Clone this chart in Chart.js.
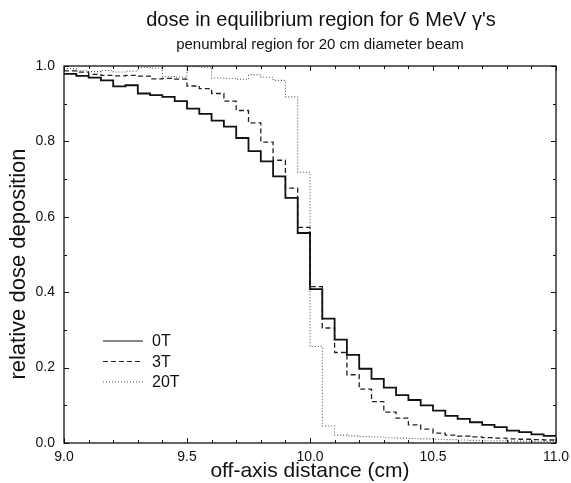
<!DOCTYPE html>
<html>
<head>
<meta charset="utf-8">
<script src="https://cdn.jsdelivr.net/npm/chart.js@4.4.0/dist/chart.umd.min.js"></script>
<style>
  html, body { margin: 0; padding: 0; background: #fff; }
</style>
</head>
<body>
<canvas id="chart" width="571" height="483"></canvas>
<script>
// bin edges (cm), 0.05 cm bins
const binEdges = [9.00, 9.05, 9.10, 9.15, 9.20, 9.25, 9.30, 9.35, 9.40, 9.45,
  9.50, 9.55, 9.60, 9.65, 9.70, 9.75, 9.80, 9.85, 9.90, 9.95,
  10.00, 10.05, 10.10, 10.15, 10.20, 10.25, 10.30, 10.35, 10.40, 10.45,
  10.50, 10.55, 10.60, 10.65, 10.70, 10.75, 10.80, 10.85, 10.90, 10.95, 11.00];

// relative dose per bin
const dose0T = [0.979, 0.974, 0.969, 0.962, 0.946, 0.949, 0.927, 0.923, 0.918, 0.907,
  0.887, 0.873, 0.855, 0.839, 0.809, 0.774, 0.747, 0.707, 0.650, 0.557,
  0.408, 0.330, 0.274, 0.234, 0.197, 0.170, 0.147, 0.127, 0.114, 0.100,
  0.086, 0.072, 0.064, 0.055, 0.048, 0.042, 0.033, 0.029, 0.023, 0.019];
const dose3T = [0.987, 0.984, 0.978, 0.975, 0.974, 0.975, 0.973, 0.966, 0.967, 0.965,
  0.947, 0.940, 0.927, 0.907, 0.882, 0.849, 0.798, 0.750, 0.676, 0.572,
  0.415, 0.305, 0.240, 0.181, 0.143, 0.110, 0.082, 0.066, 0.048, 0.037,
  0.026, 0.021, 0.018, 0.016, 0.014, 0.013, 0.011, 0.010, 0.009, 0.008];
const dose20T = [0.993, 0.987, 0.985, 0.988, 0.984, 0.986, 0.996, 0.994, 0.972, 0.970,
  0.998, 0.997, 0.968, 0.967, 0.965, 0.977, 0.970, 0.962, 0.918, 0.718,
  0.256, 0.045, 0.021, 0.019, 0.017, 0.016, 0.014, 0.013, 0.012, 0.011,
  0.010, 0.009, 0.008, 0.007, 0.006, 0.006, 0.005, 0.005, 0.004, 0.004];

const seriesLabels = ['0T', '3T', '20T'];

const xTicks = [9.0, 9.5, 10.0, 10.5, 11.0];
const yTicks = [0.0, 0.2, 0.4, 0.6, 0.8, 1.0];
const xMinorTicks = [9.1, 9.2, 9.3, 9.4, 9.6, 9.7, 9.8, 9.9, 10.1, 10.2, 10.3, 10.4, 10.6, 10.7, 10.8, 10.9];
const yMinorTicks = [0.1, 0.3, 0.5, 0.7, 0.9];

const FONT = '"Liberation Sans", Arial, Helvetica, sans-serif';

// left edge of each bin carries that bin's value, last edge closes the final bin
function toSteps(vals) {
  return binEdges.map((e, i) => ({ x: e, y: vals[Math.min(i, vals.length - 1)] }));
}

// frame, inward ticks, titles and legend
const decorations = {
  id: 'decorations',
  afterDatasetsDraw(chart) {
    const { ctx, chartArea: a } = chart;
    const xs = chart.scales.x, ys = chart.scales.y;
    ctx.save();

    ctx.strokeStyle = '#111';
    ctx.lineWidth = 1.3;
    ctx.strokeRect(a.left, a.top, a.right - a.left, a.bottom - a.top);

    ctx.lineWidth = 1;
    ctx.beginPath();
    const xmark = (v, len) => {
      const px = Math.round(xs.getPixelForValue(v)) + 0.5;
      ctx.moveTo(px, a.bottom); ctx.lineTo(px, a.bottom - len);
      ctx.moveTo(px, a.top); ctx.lineTo(px, a.top + len);
    };
    const ymark = (v, len) => {
      const py = Math.round(ys.getPixelForValue(v)) + 0.5;
      ctx.moveTo(a.left, py); ctx.lineTo(a.left + len, py);
      ctx.moveTo(a.right, py); ctx.lineTo(a.right - len, py);
    };
    xTicks.forEach(v => xmark(v, 5));
    xMinorTicks.forEach(v => xmark(v, 3));
    yTicks.forEach(v => ymark(v, 5));
    yMinorTicks.forEach(v => ymark(v, 3));
    ctx.stroke();

    // legend
    chart.data.datasets.forEach((ds, i) => {
      const ly = 341 + i * 20.5;
      ctx.beginPath();
      ctx.setLineDash(ds.borderDash || []);
      ctx.lineWidth = Math.min(ds.borderWidth, 1.2);
      ctx.strokeStyle = ds.borderColor;
      ctx.moveTo(103, ly); ctx.lineTo(143, ly);
      ctx.stroke();
      ctx.setLineDash([]);
      ctx.fillStyle = '#111';
      ctx.font = '16px ' + FONT;
      ctx.textAlign = 'left';
      ctx.textBaseline = 'middle';
      ctx.fillText(ds.label, 152, ly + 1);
    });

    // titles
    ctx.fillStyle = '#111';
    ctx.textAlign = 'center';
    ctx.textBaseline = 'alphabetic';
    ctx.font = '20px ' + FONT;
    ctx.fillText("dose in equilibrium region for 6 MeV \u03B3's", 321, 26);
    ctx.font = '15px ' + FONT;
    ctx.fillText('penumbral region for 20 cm diameter beam', 320, 49);
    ctx.font = '21px ' + FONT;
    ctx.fillText('off-axis distance (cm)', (a.left + a.right) / 2, 477);
    ctx.translate(25, 264);
    ctx.rotate(-Math.PI / 2);
    ctx.font = '22px ' + FONT;
    ctx.fillText('relative dose deposition', 0, 0);
    ctx.restore();
  }
};

new Chart(document.getElementById('chart'), {
  type: 'line',
  data: {
    datasets: [
      { label: seriesLabels[0], data: toSteps(dose0T), borderColor: '#111', borderWidth: 1.8, borderDash: [] },
      { label: seriesLabels[1], data: toSteps(dose3T), borderColor: '#222', borderWidth: 1.3, borderDash: [5, 3] },
      { label: seriesLabels[2], data: toSteps(dose20T), borderColor: '#555', borderWidth: 1.1, borderDash: [1, 2] }
    ]
  },
  options: {
    responsive: false,
    animation: false,
    events: [],
    layout: { padding: { left: 0, top: 66, right: 15, bottom: 0 } },
    elements: {
      line: { stepped: 'before', tension: 0, fill: false },
      point: { radius: 0 }
    },
    plugins: { legend: { display: false }, title: { display: false }, tooltip: { enabled: false } },
    scales: {
      x: {
        type: 'linear', min: 9, max: 11,
        grid: { display: false, drawTicks: false }, border: { display: false },
        afterBuildTicks: s => { s.ticks = xTicks.map(v => ({ value: v })); },
        afterFit: s => { s.height = 40; s.paddingLeft = 0; s.paddingRight = 0; },
        ticks: { color: '#111', padding: 6, maxRotation: 0, font: { size: 14, family: FONT },
          callback: v => v.toFixed(1) }
      },
      y: {
        type: 'linear', min: 0, max: 1,
        grid: { display: false, drawTicks: false }, border: { display: false },
        afterBuildTicks: s => { s.ticks = yTicks.map(v => ({ value: v })); },
        afterFit: s => { s.width = 64; s.paddingTop = 0; s.paddingBottom = 0; },
        ticks: { color: '#111', padding: 9, font: { size: 14, family: FONT },
          callback: v => v.toFixed(1) }
      }
    }
  },
  plugins: [decorations]
});
</script>
</body>
</html>
